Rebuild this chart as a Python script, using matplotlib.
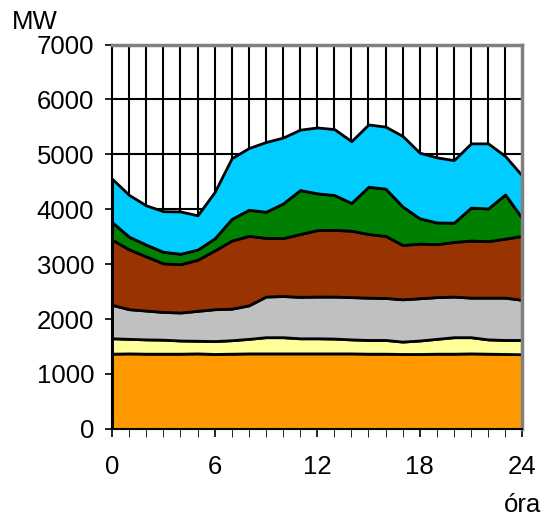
import numpy as np
import matplotlib
matplotlib.use("Agg")
import matplotlib.pyplot as plt

plt.rcParams['font.family'] = ['Liberation Sans', 'DejaVu Sans']

# hourly load by source, MW (stacked bottom to top)
hours = list(range(25))
nuclear = [1370, 1375, 1370, 1370, 1370, 1375, 1365, 1370, 1375, 1375, 1375, 1375, 1375,
           1375, 1375, 1370, 1370, 1365, 1365, 1370, 1370, 1375, 1370, 1365, 1360]
small = [280, 265, 260, 255, 240, 230, 235, 245, 265, 295, 295, 275, 275,
         270, 255, 250, 250, 225, 245, 270, 300, 295, 260, 255, 260]
coal = [610, 540, 525, 505, 510, 545, 580, 575, 610, 740, 750, 755, 760,
        765, 770, 770, 765, 770, 770, 760, 740, 720, 760, 770, 730]
gas = [1185, 1090, 985, 885, 880, 930, 1070, 1240, 1265, 1070, 1055, 1145, 1210,
       1215, 1210, 1160, 1130, 990, 995, 965, 995, 1040, 1030, 1075, 1165]
peak = [320, 230, 215, 210, 190, 185, 220, 395, 475, 475, 630, 800, 670,
        635, 505, 860, 860, 700, 460, 395, 350, 600, 595, 805, 320]
imports = [790, 760, 715, 740, 770, 625, 845, 1105, 1125, 1270, 1200, 1100, 1200,
           1200, 1125, 1135, 1130, 1285, 1195, 1185, 1140, 1170, 1185, 700, 775]

colors = ['#FF9900', '#FFFF99', '#C0C0C0', '#993300', '#008000', '#00CCFF']

fig = plt.figure(figsize=(5.44, 5.18), dpi=100)
ax = fig.add_axes([0.206, 0.172, 0.754, 0.742])

# grid under the areas
for h in hours[1:-1]:
    ax.axvline(h, color='black', lw=1.5, zorder=0)
for v in range(1000, 7000, 1000):
    ax.axhline(v, color='black', lw=1.5, zorder=0)

ax.stackplot(hours, nuclear, small, coal, gas, peak, imports,
             colors=colors, edgecolor='black', linewidth=2, zorder=2)

ax.set_xlim(0, 24)
ax.set_ylim(0, 7000)
ax.set_xticks(range(0, 25, 6))
ax.set_xticks(hours, minor=True)
ax.set_yticks(range(0, 7001, 1000))
ax.tick_params(axis='both', direction='out', labelsize=18.5, width=1.2, color='black')
ax.tick_params(axis='x', which='both', length=6, pad=13)
ax.tick_params(axis='y', length=5, pad=8)

for s in ['left', 'bottom']:
    ax.spines[s].set_color('black')
    ax.spines[s].set_linewidth(1.5)
for s in ['top', 'right']:
    ax.spines[s].set_color('#808080')
    ax.spines[s].set_linewidth(2.5)
for s in ax.spines.values():
    s.set_zorder(3)

fig.text(0.022, 0.934, 'MW', fontsize=18.5, ha='left', va='bottom')
fig.text(0.995, 0.002, 'óra', fontsize=18.5, ha='right', va='bottom')

fig.savefig('out.png', dpi=100)
